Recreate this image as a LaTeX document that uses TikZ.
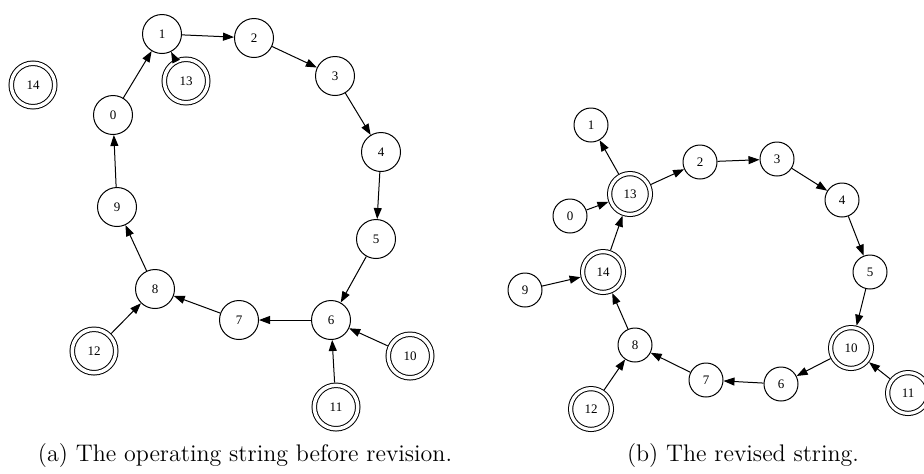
\documentclass[tikz,border=0pt]{standalone}
\usepackage{fontspec}
\newfontfamily\graphfont{Liberation Serif}
\usetikzlibrary{arrows.meta}
\tikzset{every node/.style={shape=circle,draw = black,line width = 0.5pt,
    minimum size = 19.5pt,inner sep = 0pt,font = \graphfont\fontsize{6.5}{7}\selectfont}}
\tikzset{every edge/.style={draw = black, line width = 0.5pt,
    -{Triangle[length = 5.5pt,width = 4pt]}}}
\tikzset{dbl/.style={double,double distance = 1.75pt,minimum size = 21.75pt,
    outer sep = 1.4pt}}
\tikzset{small/.style={minimum size = 17pt}}
\tikzset{smalldbl/.style={double,double distance = 1.6pt,minimum size = 20.4pt,
    outer sep = 1.3pt}}
\tikzset{caption/.style={draw = none,shape = rectangle,font = \fontsize{12}{14}\selectfont}}

\begin{document}
\begin{tikzpicture}[x = 0.5pt, y = -0.5pt]
  \useasboundingbox (0,0) rectangle (924,473);

  % (a) before revision
  \node (a1) at (162,34) {1};
  \node (a2) at (254,38) {2};
  \node (a3) at (335,76) {3};
  \node (a4) at (381,152) {4};
  \node (a5) at (376,239) {5};
  \node (a6) at (331,320) {6};
  \node (a7) at (239,320) {7};
  \node (a8) at (155,289) {8};
  \node (a9) at (117,207) {9};
  \node (a0) at (113,115) {0};
  \node (a13) [dbl] at (186,81) {13};
  \node (a14) [dbl] at (33,85) {14};
  \node (a12) [dbl] at (94,351) {12};
  \node (a10) [dbl] at (410,356) {10};
  \node (a11) [dbl] at (336,407) {11};
  \node (capA) [caption] at (245,455) {(a) The operating string before revision.};

  \path (a0) edge (a1);
  \path (a1) edge (a2);
  \path (a2) edge (a3);
  \path (a3) edge (a4);
  \path (a4) edge (a5);
  \path (a5) edge (a6);
  \path (a6) edge (a7);
  \path (a7) edge (a8);
  \path (a8) edge (a9);
  \path (a9) edge (a0);

  \path (a13) edge (a1);
  \path (a12) edge (a8);
  \path (a10) edge (a6);
  \path (a11) edge (a6);

  % (b) revised
  \node (b1) [small] at (591,125) {1};
  \node (b0) [small] at (570,216) {0};
  \node (b2) [small] at (700,162) {2};
  \node (b3) [small] at (777,159) {3};
  \node (b4) [small] at (842,200) {4};
  \node (b5) [small] at (870,272) {5};
  \node (b6) [small] at (781,384) {6};
  \node (b7) [small] at (706,380) {7};
  \node (b8) [small] at (635,345) {8};
  \node (b9) [small] at (525,290) {9};
  \node (b13) [smalldbl] at (630,194) {13};
  \node (b14) [smalldbl] at (603,272) {14};
  \node (b12) [smalldbl] at (591,409) {12};
  \node (b10) [smalldbl] at (851,348) {10};
  \node (b11) [smalldbl] at (908,393) {11};
  \node (capB) [caption] at (743,455) {(b) The revised string.};

  \path (b13) edge (b1);
  \path (b0) edge (b13);
  \path (b13) edge (b2);
  \path (b2) edge (b3);
  \path (b3) edge (b4);
  \path (b4) edge (b5);
  \path (b5) edge (b10);
  \path (b10) edge (b6);
  \path (b11) edge (b10);
  \path (b6) edge (b7);
  \path (b7) edge (b8);
  \path (b12) edge (b8);
  \path (b8) edge (b14);
  \path (b9) edge (b14);
  \path (b14) edge (b13);
\end{tikzpicture}
\end{document}
